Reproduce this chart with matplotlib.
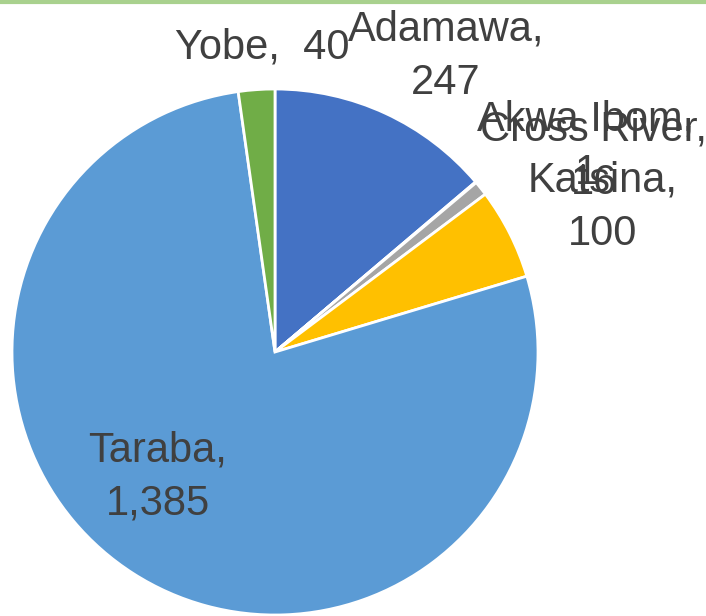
import matplotlib.pyplot as plt
from matplotlib.lines import Line2D

# Data
states = ['Adamawa', 'Akwa Ibom', 'Cross River', 'Katsina', 'Taraba', 'Yobe']
cases = [247, 1, 16, 100, 1385, 40]
colors = ['#4472C4', '#ED7D31', '#A5A5A5', '#FFC000', '#5B9BD5', '#70AD47']

W, H = 706, 616
cx, cy, r = 275, 352, 263  # pie centre and radius in pixels (from top-left)

fig = plt.figure(figsize=(W / 100, H / 100), dpi=100)
ax = fig.add_axes([0, 0, 1, 1])
ax.pie(cases, colors=colors, startangle=90, counterclock=False, radius=1,
       wedgeprops=dict(edgecolor='white', linewidth=2))
ax.set_xlim(-cx / r, (W - cx) / r)
ax.set_ylim(-(H - cy) / r, cy / r)
ax.set_aspect('auto')
ax.axis('off')

# green rule along the top edge
fig.add_artist(Line2D([0, 1], [1 - 2 / H, 1 - 2 / H], color='#A9D18E', linewidth=3,
                      transform=fig.transFigure))

# label centres in pixels (x, y from top)
label_pos = {
    'Adamawa': (446, 56),
    'Akwa Ibom': (586, 146),
    'Cross River': (594, 156),
    'Katsina': (603, 207),
    'Taraba': (158, 477),
    'Yobe': (262, 48),
}

for name, val in zip(states, cases):
    px, py = label_pos[name]
    if name == 'Yobe':
        txt = f'{name},  {val:,}'
    else:
        txt = f'{name},\n{val:,}'
    fig.text(px / W, 1 - py / H, txt, ha='center', va='center', ma='center',
             fontsize=30, color='#404040', family='Liberation Sans', linespacing=1.45)

fig.savefig('out.png', dpi=100)
